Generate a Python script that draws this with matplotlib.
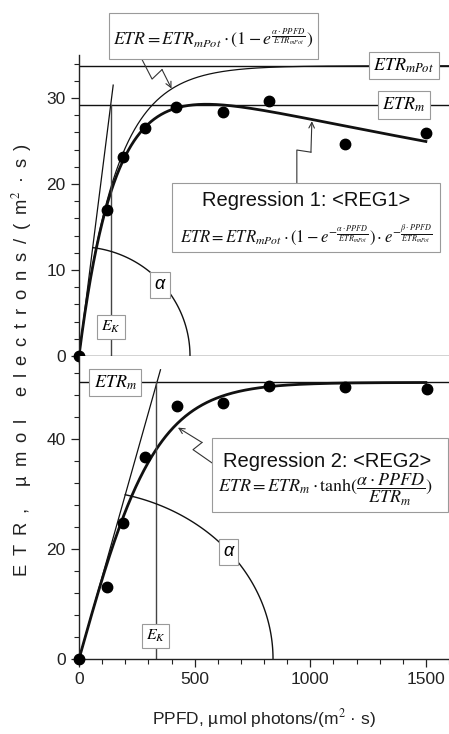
import numpy as np
import matplotlib
matplotlib.use('Agg')
import matplotlib.pyplot as plt
from matplotlib.patches import Rectangle
from matplotlib.ticker import MultipleLocator

plt.rcParams['font.family'] = ['Liberation Sans', 'DejaVu Sans']
plt.rcParams['mathtext.fontset'] = 'stix'

# ---------------- data ----------------
ppfd1 = [0, 121, 190, 285, 420, 622, 822, 1150, 1500]
etr1 = [0, 17.0, 23.1, 26.5, 29.0, 28.4, 29.65, 24.65, 25.9]

ppfd2 = [0, 121, 190, 285, 423, 623, 822, 1150, 1503]
etr2 = [0, 13.1, 24.7, 36.7, 46.0, 46.5, 49.6, 49.3, 49.1]

# regression parameters
alpha1 = 0.213
etr_mpot1 = 33.75
beta1 = 0.0068
etr_m1 = 29.2
ek1 = 137

alpha2 = 0.149
etr_m2 = 50.2
ek2 = 331

x_ticks = [0, 500, 1000, 1500]
y1_ticks = [0, 10, 20, 30]
y2_ticks = [0, 20, 40]

# ---------------- figure ----------------
W, H = 449, 734
fig = plt.figure(figsize=(W / 100, H / 100), dpi=100)
ax1 = fig.add_axes([79 / W, 1 - 356 / H, 370 / W, 301 / H])
ax2 = fig.add_axes([79 / W, 1 - 659 / H, 370 / W, 303 / H])

ink = '#111111'
edge = '#9a9a9a'
box_kw = dict(boxstyle='square,pad=0.25', fc='white', ec=edge, lw=0.8)

for ax in (ax1, ax2):
    ax.set_xlim(0, 1600)
    ax.spines['top'].set_visible(False)
    ax.spines['right'].set_visible(False)
    for s in ('left', 'bottom'):
        ax.spines[s].set_linewidth(1.0)
        ax.spines[s].set_color('#222222')
    ax.set_xticks(x_ticks)
    ax.xaxis.set_minor_locator(MultipleLocator(100))
    ax.tick_params(which='major', direction='out', length=6, width=0.9,
                   labelsize=12.5, colors='#222222')
    ax.tick_params(which='minor', direction='out', length=3.5, width=0.8,
                   colors='#222222')

ax1.set_ylim(0, 35)
ax1.set_yticks(y1_ticks)
ax1.yaxis.set_minor_locator(MultipleLocator(2))
ax1.tick_params(axis='x', labelbottom=False)

ax2.set_ylim(0, 55)
ax2.set_yticks(y2_ticks)
ax2.yaxis.set_minor_locator(MultipleLocator(4))
ax2.set_xticklabels([str(t) for t in x_ticks])


def frame(ax, x0, x1, y0, y1):
    ax.add_patch(Rectangle((x0, y0), x1 - x0, y1 - y0, fc='white', ec=edge,
                           lw=0.8, clip_on=False, zorder=6))


def zigzag(ax, xs, ys):
    ax.plot(xs[:-1], ys[:-1], color='#333333', lw=0.8, clip_on=False)
    ax.annotate('', xy=(xs[-1], ys[-1]), xytext=(xs[-2], ys[-2]),
                arrowprops=dict(arrowstyle='->', lw=0.8, color='#333333',
                                shrinkA=0, shrinkB=0),
                annotation_clip=False)


# ---------------- top panel ----------------
xx = np.linspace(0, 1600, 600)
thin1 = etr_mpot1 * (1 - np.exp(-alpha1 * xx / etr_mpot1))
xt = np.linspace(0, 1500, 600)
thick1 = (etr_mpot1 * (1 - np.exp(-alpha1 * xt / etr_mpot1))
          * np.exp(-beta1 * xt / etr_mpot1))

ax1.axhline(etr_mpot1, color=ink, lw=1.0)
ax1.axhline(etr_m1, color=ink, lw=1.0)
ax1.plot(xx, thin1, color=ink, lw=0.9)
ax1.plot(xt, thick1, color=ink, lw=2.0)
ax1.plot([0, 31.5 / alpha1], [0, 31.5], color=ink, lw=0.9)
ax1.plot([ek1, ek1], [0, etr_m1], color='#444444', lw=1.0)

# alpha arc
rx1, ry1 = 480, 12.7
t_end1 = np.arctan(alpha1 * rx1 / ry1)
tt = np.linspace(0, t_end1, 100)
ax1.plot(rx1 * np.cos(tt), ry1 * np.sin(tt), color=ink, lw=1.0)

ax1.plot(ppfd1, etr1, 'o', color='black', ms=7.5, clip_on=False, zorder=5)

ax1.text(1405, etr_mpot1, r'$ETR_{mPot}$', fontsize=13, ha='center',
         va='center', bbox=box_kw, zorder=7)
ax1.text(1405, etr_m1, r'$ETR_{m}$', fontsize=13, ha='center',
         va='center', bbox=box_kw, zorder=7)
ax1.text(ek1, 3.4, r'$E_K$', fontsize=11.5, ha='center', va='center',
         bbox=box_kw, zorder=7)
ax1.text(350, 8.3, 'α', fontsize=13, style='italic', ha='center',
         va='center', bbox=box_kw, zorder=7)

# top equation box
frame(ax1, 130, 1033, 34.5, 39.9)
ax1.text(581, 37.0,
         r'$ETR = ETR_{mPot}\cdot(1-e^{\frac{\alpha\cdot PPFD}{ETR_{mPot}}})$',
         fontsize=12.8, ha='center', va='center', clip_on=False, zorder=7,
         color=ink)

zigzag(ax1, [272, 316, 359, 400], [34.5, 32.2, 33.3, 31.1])
zigzag(ax1, [942, 942, 1003, 1007], [20.1, 23.95, 23.7, 27.3])

# Regression 1 box
frame(ax1, 402, 1561, 12.1, 20.1)
ax1.text(980, 18.1, 'Regression 1: <REG1>', fontsize=14.5, ha='center',
         va='center', color=ink, zorder=7)
ax1.text(980, 14.1,
         r'$ETR = ETR_{mPot}\cdot(1-e^{-\frac{\alpha\cdot PPFD}{ETR_{mPot}}})'
         r'\cdot e^{-\frac{\beta\cdot PPFD}{ETR_{mPot}}}$',
         fontsize=12, ha='center', va='center', color=ink, zorder=7)

# ---------------- bottom panel ----------------
thick2 = etr_m2 * np.tanh(alpha2 * xt / etr_m2)
ax2.axhline(etr_m2, color=ink, lw=1.0)
ax2.plot(xt, thick2, color=ink, lw=2.0)
ax2.plot([0, 52.5 / alpha2], [0, 52.5], color=ink, lw=0.9)
ax2.plot([ek2, ek2], [0, etr_m2], color='#444444', lw=1.0)

rx2, ry2 = 839, 30.7
t_end2 = np.arctan(alpha2 * rx2 / ry2)
tt = np.linspace(0, t_end2, 100)
ax2.plot(rx2 * np.cos(tt), ry2 * np.sin(tt), color=ink, lw=1.0)

ax2.plot(ppfd2, etr2, 'o', color='black', ms=7.5, clip_on=False, zorder=5)

ax2.text(157, etr_m2, r'$ETR_{m}$', fontsize=13, ha='center',
         va='center', bbox=box_kw, zorder=7)
ax2.text(ek2, 4.2, r'$E_K$', fontsize=11.5, ha='center', va='center',
         bbox=box_kw, zorder=7)
ax2.text(645, 19.5, 'α', fontsize=13, style='italic', ha='center',
         va='center', bbox=box_kw, zorder=7)

zigzag(ax2, [575, 493, 532, 428], [35.6, 38.0, 39.3, 42.0])

# Regression 2 box
frame(ax2, 575, 1595, 26.7, 40.2)
ax2.text(1075, 35.8, 'Regression 2: <REG2>', fontsize=14.5, ha='center',
         va='center', color=ink, zorder=7)
ax2.text(1065, 30.6,
         r'$ETR = ETR_{m}\cdot\tanh(\dfrac{\alpha\cdot PPFD}{ETR_{m}})$',
         fontsize=13, ha='center', va='center', color=ink, zorder=7)

# ---------------- axis labels ----------------
ylab_chars = ['E', 'T', 'R', ',', ' ', 'µ', 'm', 'o', 'l', ' ',
              'e', 'l', 'e', 'c', 't', 'r', 'o', 'n', 's', '/', '(',
              'm$^2$', '·', 's', ')']
fig.text(22 / W, 1 - 360 / H, ' \u2009'.join(ylab_chars),
         rotation=90, ha='center', va='center', fontsize=13.2, color='#222222')
fig.text(264 / W, 1 - 718 / H, 'PPFD, µmol photons/(m$^2$ · s)',
         ha='center', va='center', fontsize=12.5, color='#222222')

fig.savefig('out.png', dpi=100)
